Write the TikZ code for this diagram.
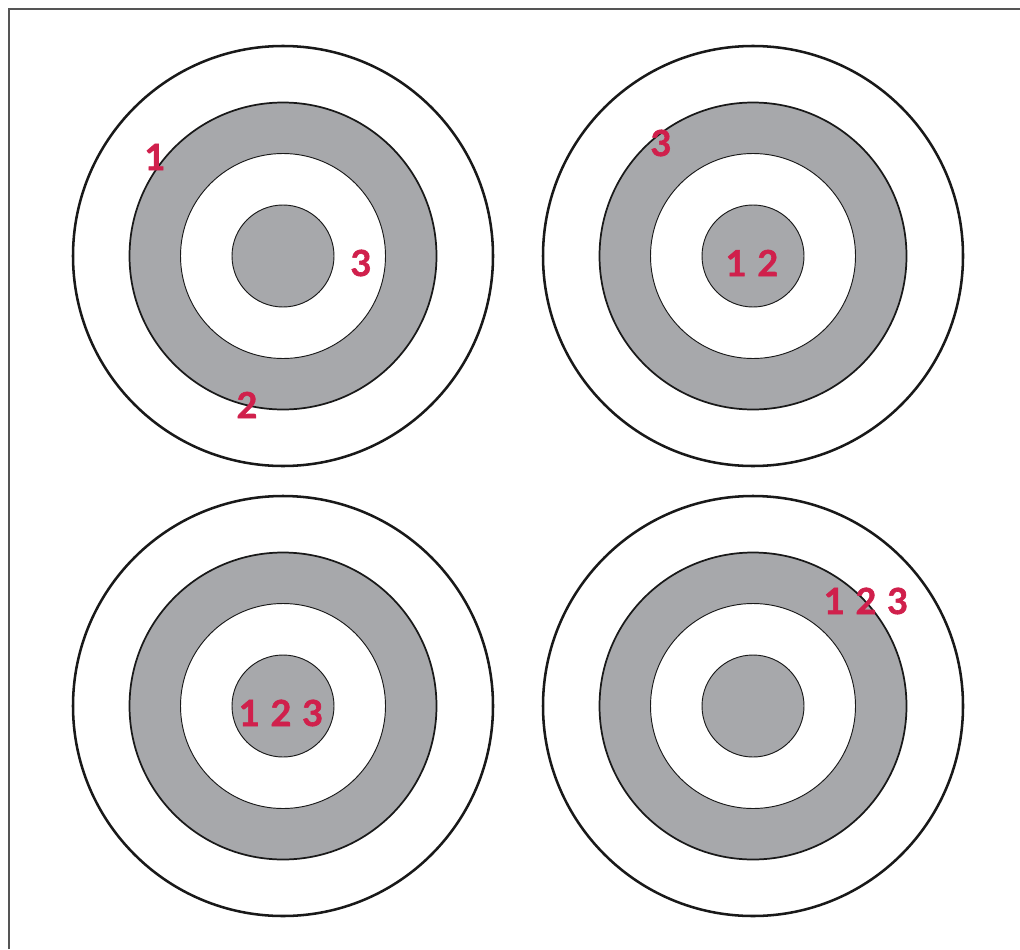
\documentclass[tikz,border=0pt]{standalone}
\usepackage{fontspec}
\setmainfont{Lato}[BoldFeatures={FakeBold=1.6}]
\definecolor{ringgray}{HTML}{A7A8AB}
\definecolor{shot}{HTML}{D0204C}
\definecolor{framegray}{HTML}{555555}
\tikzset{
  outerring/.style={draw=black!90, line width=1.9pt},
  grayring/.style={fill=ringgray, draw=black!90, line width=1.3pt},
  whitering/.style={fill=white, draw=black!90, line width=0.7pt},
  bull/.style={fill=ringgray, draw=black!90, line width=0.7pt},
  hit/.style={text=shot, font=\fontsize{27}{27}\selectfont\bfseries, inner sep=0pt, anchor=center},
}
\begin{document}
\begin{tikzpicture}[x=0.75pt,y=-0.75pt]
\useasboundingbox (0,0) rectangle (1020,949);
\draw[framegray, line width=1.4pt] (9,949) -- (9,9) -- (1020,9);
\foreach \cx/\cy in {283/256, 753/256, 283/706, 753/706}{
  \draw[outerring] (\cx,\cy) circle[radius=210];
  \draw[grayring] (\cx,\cy) circle[radius=153.5];
  \draw[whitering] (\cx,\cy) circle[radius=102.5];
  \draw[bull] (\cx,\cy) circle[radius=51];
}
\node[hit] (a1) at (155,157) {1};
\node[hit] (a2) at (247,405) {2};
\node[hit] (a3) at (361,263) {3};
\node[hit] (b3) at (661,143) {3};
\node[hit] (b12) at (752,263) {1\hspace{0.3em}2};
\node[hit] (c123) at (281,713) {1\hspace{0.3em}2\hspace{0.3em}3};
\node[hit] (d123) at (866,601) {1\hspace{0.3em}2\hspace{0.3em}3};
\end{tikzpicture}
\end{document}
